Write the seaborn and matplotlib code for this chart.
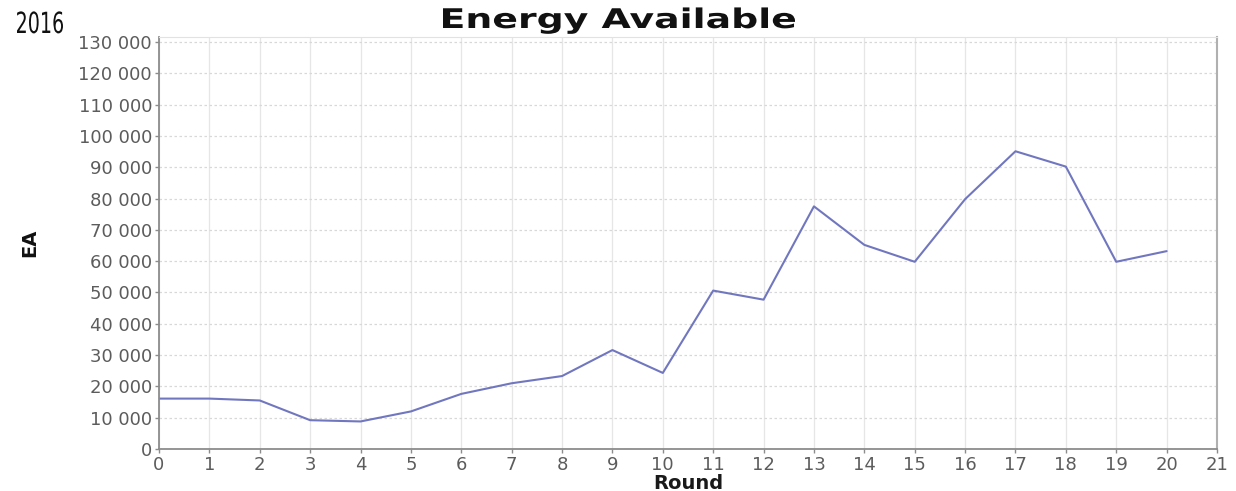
import matplotlib
matplotlib.use("Agg")
import matplotlib.pyplot as plt
import matplotlib.ticker as mticker
from matplotlib.textpath import TextPath
from matplotlib.font_manager import FontProperties
from matplotlib.patches import PathPatch
from matplotlib.transforms import Affine2D
import seaborn as sns
import pandas as pd

# data
rounds = list(range(0, 21))
energy = [16100, 16100, 15500, 9200, 8800, 12000, 17600, 21000, 23300, 31600,
          24300, 50600, 47700, 77500, 65200, 59800, 79800, 95100, 90200, 59800, 63200]
y_ticks = list(range(0, 130001, 10000))
x_ticks = list(range(0, 22))

df = pd.DataFrame({"Round": rounds, "EA": energy})

sns.set_style("white")
plt.rcParams["font.family"] = ["DejaVu Sans"]

W, H = 1236, 491
fig = plt.figure(figsize=(W / 100, H / 100), dpi=100)
ax = fig.add_axes([159 / W, 1 - 449 / H, (1217 - 159) / W, (449 - 37) / H])


def stretched_text(s, x0, x1, baseline, size, weight="normal", color="black"):
    # text squeezed/stretched horizontally to span pixels x0..x1 (top-left origin)
    fp = FontProperties(family="DejaVu Sans", weight=weight)
    path = TextPath((0, 0), s, size=size, prop=fp)
    ext = path.get_extents()
    k = 100 / 72
    sx = (x1 - x0) / (ext.width * k)
    tr = Affine2D().translate(-ext.x0, 0).scale(sx * k, k).translate(x0, H - baseline)
    fig.patches.append(PathPatch(tr.transform_path(path), transform=None,
                                 facecolor=color, edgecolor="none", figure=fig))


sns.lineplot(data=df, x="Round", y="EA", ax=ax, color="#7177bf", linewidth=1.5)

ax.set_xlim(0, 21)
ax.set_ylim(0, 131600)
ax.set_xticks(x_ticks)
ax.set_yticks(y_ticks)
ax.yaxis.set_major_formatter(mticker.FuncFormatter(lambda v, p: f"{int(v):,}".replace(",", " ")))

ax.grid(axis="y", color="#d8d8d8", linestyle=(0, (2, 2)), linewidth=0.9)
ax.grid(axis="x", color="#e6e6e6", linestyle="-", linewidth=0.9)
ax.set_axisbelow(True)

for side in ["left", "bottom"]:
    ax.spines[side].set_color("#8c8c8c")
    ax.spines[side].set_linewidth(1.3)
ax.spines["right"].set_color("#b0b0b0")
ax.spines["right"].set_linewidth(1.5)
ax.spines["top"].set_color("#e2e2e2")

ax.tick_params(axis="both", which="major", length=3, width=1, color="#8c8c8c",
               labelcolor="#5c5c5c", labelsize=13, direction="out", pad=2,
               left=True, bottom=True)

ax.set_xlabel("Round", fontsize=14, fontweight="bold", labelpad=0, color="#1a1a1a")
ax.set_ylabel("EA", fontsize=14, fontweight="bold", color="#111111")
ax.yaxis.set_label_coords(-0.113, 0.5)

# title and corner label, drawn as stretched outlines
stretched_text("Energy Available", 443, 795, 28, 19.5, weight="bold", color="#111111")
stretched_text("2016", 17, 63, 33, 21, color="#111111")

fig.savefig("out.png", dpi=100)
